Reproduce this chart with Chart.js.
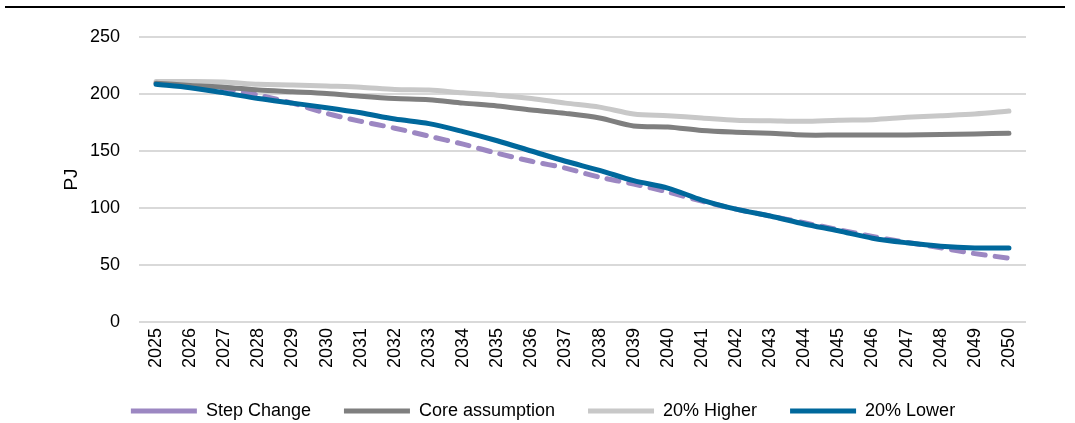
<!DOCTYPE html>
<html lang="en">
<head>
    <meta charset="UTF-8">
    <title>PJ scenarios</title>
    <script src="https://cdn.jsdelivr.net/npm/chart.js"></script>
    <style>
        body {
            margin: 0;
            background: #ffffff;
            overflow: hidden;
        }

        .top-rule {
            position: absolute;
            top: 6px;
            left: 5px;
            width: 1060px;
            border-top: 2px solid #000000;
        }

        .chart-container {
            position: relative;
            width: 1075px;
            height: 430px;
        }
    </style>
</head>
<body>
    <div class="top-rule"></div>
    <div class="chart-container">
        <canvas id="pjChart"></canvas>
    </div>

    <script>
        const years = ['2025', '2026', '2027', '2028', '2029', '2030', '2031', '2032', '2033', '2034',
            '2035', '2036', '2037', '2038', '2039', '2040', '2041', '2042', '2043', '2044',
            '2045', '2046', '2047', '2048', '2049', '2050'];

        const stepChange = [210, 209, 205, 199, 192, 183, 176, 170, 163, 156,
            148, 141, 135, 127, 121, 114, 106, 99, 93, 87,
            81, 75, 70, 65, 60, 56];

        const coreAssumption = [209.5, 207.5, 206, 203.5, 202, 200.5, 198, 196, 195, 192,
            189.5, 186, 183, 179, 172, 171, 168, 166.5, 165.5, 164,
            164, 164, 164, 164.5, 165, 165.5];

        const higher20 = [211, 211, 210.5, 208.5, 208, 207, 206, 204, 203.5, 201,
            199, 196, 192, 188.5, 182.5, 181, 179, 177, 176.5, 176,
            177, 177.5, 179.5, 181, 182.5, 185];

        const lower20 = [208.5, 205.5, 201, 196, 192, 188, 183.5, 178, 174, 167,
            159, 150, 141, 133, 124, 117.5, 107, 99, 93, 86,
            80, 73.5, 69.5, 66.5, 65, 65];

        const yTicks = [0, 50, 100, 150, 200, 250];

        Chart.defaults.color = '#000000';
        Chart.defaults.font.family = "'Liberation Sans', Arial, sans-serif";

        function lineSet(label, data, color, order, dash) {
            return {
                label,
                data,
                borderColor: color,
                backgroundColor: color,
                borderWidth: 5,
                borderCapStyle: 'round',
                borderJoinStyle: 'round',
                borderDash: dash || [],
                pointRadius: 0,
                pointHoverRadius: 0,
                pointStyle: 'line',
                tension: 0.3,
                fill: false,
                order
            };
        }

        const ctx = document.getElementById('pjChart').getContext('2d');

        new Chart(ctx, {
            type: 'line',
            data: {
                labels: years,
                datasets: [
                    lineSet('Step Change', stepChange, '#9c87c2', 4, [12, 10]),
                    lineSet('Core assumption', coreAssumption, '#7f7f7f', 2),
                    lineSet('20% Higher', higher20, '#c8c8c8', 3),
                    lineSet('20% Lower', lower20, '#00689c', 1)
                ]
            },
            options: {
                responsive: true,
                maintainAspectRatio: false,
                animation: false,
                layout: {
                    padding: { top: 37, right: 49, left: 60, bottom: 0 }
                },
                plugins: {
                    tooltip: { enabled: false },
                    legend: {
                        position: 'bottom',
                        labels: {
                            usePointStyle: true,
                            pointStyleWidth: 66,
                            boxHeight: 5,
                            padding: 33,
                            font: { size: 18 },
                            color: '#000000',
                            sort: (a, b) => a.datasetIndex - b.datasetIndex
                        }
                    }
                },
                scales: {
                    x: {
                        offset: true,
                        grid: { display: false, drawTicks: false },
                        border: { display: false },
                        ticks: {
                            minRotation: 90,
                            maxRotation: 90,
                            autoSkip: false,
                            padding: 6,
                            font: { size: 18 }
                        },
                        afterFit: (scale) => { scale.height = 47; }
                    },
                    y: {
                        min: 0,
                        max: 250,
                        afterBuildTicks: (scale) => {
                            scale.ticks = yTicks.map(v => ({ value: v }));
                        },
                        grid: {
                            color: '#d9d9d9',
                            lineWidth: 2,
                            drawTicks: false
                        },
                        border: { display: false },
                        ticks: {
                            padding: 19,
                            font: { size: 18 }
                        },
                        title: {
                            display: true,
                            text: 'PJ',
                            font: { size: 19 },
                            padding: { top: 0, bottom: 0 }
                        },
                        afterFit: (scale) => { scale.width = 79; }
                    }
                }
            }
        });
    </script>
</body>
</html>
